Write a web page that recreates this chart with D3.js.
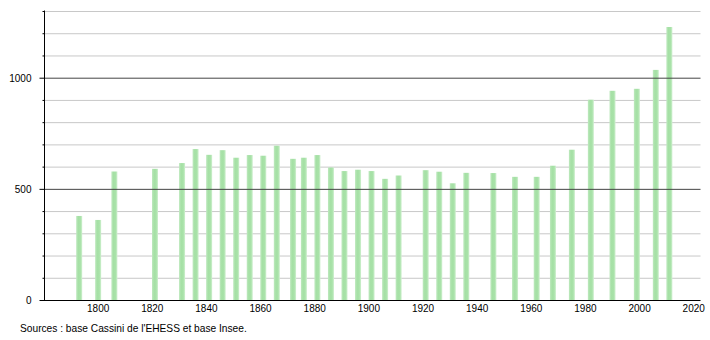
<!DOCTYPE html>
<html>
<head>
<meta charset="utf-8">
<script src="https://cdn.jsdelivr.net/npm/d3@7"></script>
<style>
    body { margin: 0; background: #fff; }
    svg { display: block; font-family: "Liberation Sans", Arial, sans-serif; }
</style>
</head>
<body>
<svg id="chart" width="710" height="340"></svg>
<script>
const years = [1793, 1800, 1806, 1821, 1831, 1836, 1841, 1846, 1851, 1856, 1861, 1866,
    1872, 1876, 1881, 1886, 1891, 1896, 1901, 1906, 1911, 1921, 1926, 1931, 1936,
    1946, 1954, 1962, 1968, 1975, 1982, 1990, 1999, 2006, 2011];
const population = [378, 360, 578, 590, 616, 679, 653, 674, 640, 652, 649, 694,
    635, 640, 652, 596, 580, 586, 580, 545, 560, 584, 577, 525, 572,
    571, 554, 554, 604, 676, 901, 941, 950, 1035, 1228];
const xTicks = [1800, 1820, 1840, 1860, 1880, 1900, 1920, 1940, 1960, 1980, 2000, 2020];
const yLabels = [0, 500, 1000];
const source = "Sources : base Cassini de l'EHESS et base Insee.";

const svg = d3.select('#chart');
const x = d3.scaleLinear().domain([1780, 2022.5]).range([44, 700.5]);
const y = d3.scaleLinear().domain([0, 1300]).range([300, 11]);
const barWidth = 6;

// cylinder-like shading of the bars
const grad = svg.append('defs').append('linearGradient')
    .attr('id', 'bar')
    .attr('x1', '0').attr('x2', '1').attr('y1', '0').attr('y2', '0');
grad.append('stop').attr('offset', '0%').attr('stop-color', '#bfe9bf');
grad.append('stop').attr('offset', '35%').attr('stop-color', '#a5e0a5');
grad.append('stop').attr('offset', '70%').attr('stop-color', '#a9e2a9');
grad.append('stop').attr('offset', '100%').attr('stop-color', '#d0f0d0');

const gridValues = d3.range(100, 1301, 100);

// light grid lines
svg.append('g')
    .selectAll('line')
    .data(gridValues.filter((d) => d % 500 !== 0))
    .enter()
    .append('line')
    .attr('x1', x.range()[0])
    .attr('x2', x.range()[1])
    .attr('y1', (d) => y(d) + 0.5)
    .attr('y2', (d) => y(d) + 0.5)
    .attr('stroke', '#c8c8c8')
    .attr('stroke-width', 1);

// bars
svg.append('g')
    .selectAll('rect')
    .data(years)
    .enter()
    .append('rect')
    .attr('x', (d) => x(d) - barWidth / 2)
    .attr('width', barWidth)
    .attr('y', (d, i) => y(population[i]))
    .attr('height', (d, i) => y(0) - y(population[i]))
    .attr('fill', 'url(#bar)');

// dark grid lines at labelled values
svg.append('g')
    .selectAll('line')
    .data(yLabels.filter((d) => d > 0))
    .enter()
    .append('line')
    .attr('x1', x.range()[0])
    .attr('x2', x.range()[1])
    .attr('y1', (d) => y(d) + 0.5)
    .attr('y2', (d) => y(d) + 0.5)
    .attr('stroke', '#444')
    .attr('stroke-width', 1);

// y axis: minor ticks every 100, labels at 0/500/1000
const yAxis = svg.append('g').attr('transform', 'translate(44.5,0.5)');
yAxis.append('line')
    .attr('y1', y(1300) - 1)
    .attr('y2', y(0))
    .attr('stroke', '#000');
yAxis.selectAll('line.minor')
    .data(gridValues.filter((d) => d % 500 !== 0))
    .enter()
    .append('line')
    .attr('class', 'minor')
    .attr('x1', -2)
    .attr('x2', 0)
    .attr('y1', (d) => y(d))
    .attr('y2', (d) => y(d))
    .attr('stroke', '#000');
yAxis.selectAll('line.major')
    .data(yLabels)
    .enter()
    .append('line')
    .attr('class', 'major')
    .attr('x1', -5)
    .attr('x2', 0)
    .attr('y1', (d) => y(d))
    .attr('y2', (d) => y(d))
    .attr('stroke', '#000');
yAxis.selectAll('text')
    .data(yLabels)
    .enter()
    .append('text')
    .attr('x', -13)
    .attr('y', (d) => y(d))
    .attr('dy', '0.35em')
    .attr('text-anchor', 'end')
    .attr('font-size', 10)
    .attr('fill', '#000')
    .text((d) => d);

// x axis
svg.append('line')
    .attr('x1', x.range()[0] - 4)
    .attr('x2', x.range()[1])
    .attr('y1', y(0) + 0.5)
    .attr('y2', y(0) + 0.5)
    .attr('stroke', '#000');
svg.append('g')
    .selectAll('text')
    .data(xTicks)
    .enter()
    .append('text')
    .attr('x', (d) => x(d))
    .attr('y', 312)
    .attr('text-anchor', 'middle')
    .attr('font-size', 10)
    .attr('fill', '#000')
    .text((d) => d);

svg.append('text')
    .attr('x', 20)
    .attr('y', 332)
    .attr('font-size', 10.2)
    .attr('fill', '#000')
    .text(source);
</script>
</body>
</html>
